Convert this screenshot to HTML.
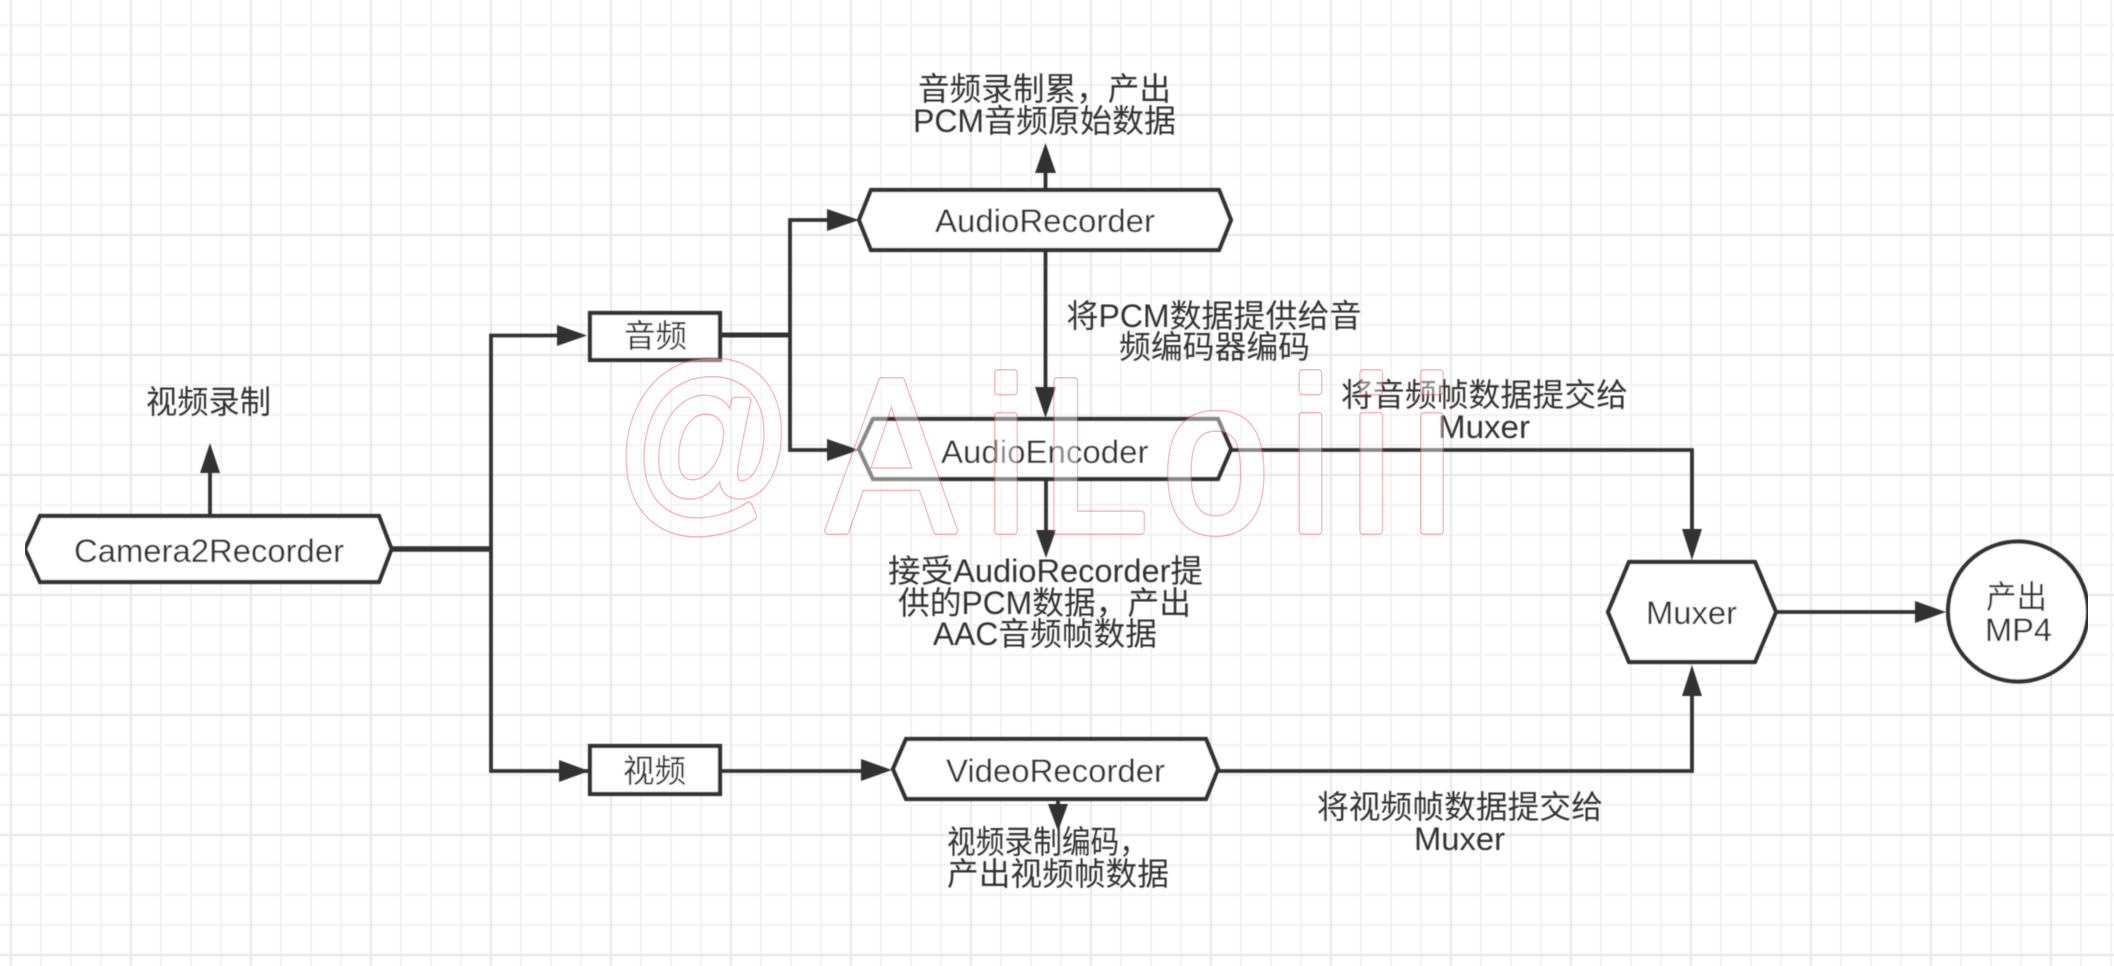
<!DOCTYPE html>
<html lang="zh">
<head>
<meta charset="utf-8">
<title>Diagram</title>
<style>
html,body{margin:0;padding:0;background:#fff;width:2114px;height:966px;overflow:hidden}
svg{display:block;position:absolute;left:0;top:0}
text{font-family:"Liberation Sans","Noto Sans CJK SC",sans-serif;font-size:32px;fill:#333}
.s{fill:none;stroke:#333;stroke-width:3.8}
.n{fill:#fff;stroke:#333;stroke-width:4.2;stroke-linejoin:miter}
.a{fill:#333;stroke:none}
.wm text{font-size:218px}
.wm text.at{font-size:200px}
</style>
</head>
<body>
<svg width="2114" height="966" viewBox="0 0 2114 966" xmlns="http://www.w3.org/2000/svg">
<defs>
<pattern id="gm" x="-4" y="10" width="30" height="30" patternUnits="userSpaceOnUse">
<path d="M15 0V30M0 15H30" fill="none" stroke="#f4f4f4" stroke-width="2.4"/>
</pattern>
<pattern id="gM" x="-49" y="55" width="120" height="120" patternUnits="userSpaceOnUse">
<path d="M60 0V120M0 60H120" fill="none" stroke="#ebebeb" stroke-width="2.4"/>
</pattern>
<filter id="b" x="0" y="0" width="100%" height="100%"><feGaussianBlur stdDeviation="0.45"/></filter>
</defs>
<rect width="2114" height="966" fill="#fff"/>
<rect width="2114" height="966" fill="url(#gm)"/>
<rect width="2114" height="966" fill="url(#gM)"/>

<g filter="url(#b)">
<!-- connectors -->
<path class="s" d="M391 549H491" style="stroke-width:5.5"/>
<path class="s" d="M557 335.500H491V771H589"/>
<path class="s" d="M720 335H790" style="stroke-width:5"/>
<path class="s" d="M828 220H790V450H828"/>
<path class="s" d="M210 516V470"/>
<path class="s" d="M1045.500 190V170"/>
<path class="s" d="M1045.500 250V390"/>
<path class="s" d="M1046 479V535"/>
<path class="s" d="M720 771H865"/>
<path class="s" d="M1058 799V810"/>
<path class="s" d="M1231 450H1692V532"/>
<path class="s" d="M1218 771H1692V694"/>
<path class="s" d="M1776 612H1918"/>

<!-- arrowheads -->
<polygon class="a" points="210,443 200,473 220,473"/>
<polygon class="a" points="587,335.500 557,325 557,346"/>
<polygon class="a" points="589,771 559,760 559,782"/>
<polygon class="a" points="859,220 827,209 827,231"/>
<polygon class="a" points="859,450 827,439 827,461"/>
<polygon class="a" points="1045.500,143 1035,173 1056,173"/>
<polygon class="a" points="1045.500,418 1035,387 1056,387"/>
<polygon class="a" points="1046,558 1036,530 1056,530"/>
<polygon class="a" points="892,770 861,759 861,781"/>
<polygon class="a" points="1058,831 1048,804 1068,804"/>
<polygon class="a" points="1692,560 1682,529 1702,529"/>
<polygon class="a" points="1692,665 1682,696 1702,696"/>
<polygon class="a" points="1946,612 1915,601 1915,623"/>

<!-- nodes -->
<polygon class="n" points="25,549 40,516 379,516 391.500,549 379,582 40,582"/>
<rect class="n" x="590" y="313" width="130" height="47"/>
<rect class="n" x="590" y="746" width="130" height="48"/>
<polygon class="n" points="859,220 871,190 1219,190 1231,220 1219,250 871,250"/>
<polygon class="n" points="859,449 873,419 1218,419 1231,449 1218,479 873,479"/>
<polygon class="n" points="893,769 906,739 1206,739 1218,769 1206,799 906,799"/>
<polygon class="n" points="1608,612 1629,562 1755,562 1776,612 1755,662 1629,662"/>
<ellipse class="n" cx="2018" cy="611.500" rx="70" ry="70"/>

<!-- labels -->
<text x="146" y="413" textLength="125" lengthAdjust="spacingAndGlyphs">视频录制</text>
<text x="74" y="562" textLength="270" lengthAdjust="spacingAndGlyphs">Camera2Recorder</text>
<text x="624" y="347" textLength="63" lengthAdjust="spacingAndGlyphs">音频</text>
<text x="623" y="782" textLength="63" lengthAdjust="spacingAndGlyphs">视频</text>
<text x="918" y="100" textLength="253" lengthAdjust="spacingAndGlyphs">音频录制累，产出</text>
<text x="913" y="132" textLength="263" lengthAdjust="spacingAndGlyphs">PCM音频原始数据</text>
<text x="935" y="232" textLength="220" lengthAdjust="spacingAndGlyphs">AudioRecorder</text>
<text x="1066.500" y="327" textLength="295" lengthAdjust="spacingAndGlyphs">将PCM数据提供给音</text>
<text x="1119" y="358" textLength="191" lengthAdjust="spacingAndGlyphs">频编码器编码</text>
<text x="1341" y="406" textLength="287" lengthAdjust="spacingAndGlyphs">将音频帧数据提交给</text>
<text x="1438" y="438" textLength="92" lengthAdjust="spacingAndGlyphs">Muxer</text>
<text x="941" y="463" textLength="207.500" lengthAdjust="spacingAndGlyphs">AudioEncoder</text>
<text x="888" y="582" textLength="315" lengthAdjust="spacingAndGlyphs">接受AudioRecorder提</text>
<text x="898" y="614" textLength="293" lengthAdjust="spacingAndGlyphs">供的PCM数据，产出</text>
<text x="933" y="645" textLength="224" lengthAdjust="spacingAndGlyphs">AAC音频帧数据</text>
<text x="946" y="782" textLength="219" lengthAdjust="spacingAndGlyphs">VideoRecorder</text>
<text x="947" y="853" textLength="201" lengthAdjust="spacingAndGlyphs">视频录制编码，</text>
<text x="947" y="885" textLength="222" lengthAdjust="spacingAndGlyphs">产出视频帧数据</text>
<text x="1317" y="818" textLength="286" lengthAdjust="spacingAndGlyphs">将视频帧数据提交给</text>
<text x="1414" y="850" textLength="91" lengthAdjust="spacingAndGlyphs">Muxer</text>
<text x="1646" y="624" textLength="91" lengthAdjust="spacingAndGlyphs">Muxer</text>
<text x="1986" y="608" textLength="61" lengthAdjust="spacingAndGlyphs">产出</text>
<text x="1985" y="641" textLength="67" lengthAdjust="spacingAndGlyphs">MP4</text>
</g>

<!-- watermark -->
<g class="wm" opacity="0.42" stroke-linejoin="round" stroke-linecap="round">
<g transform="scale(.88,1)">
<text class="at" x="699" y="506" style="fill:none;stroke:#f55;stroke-width:8">@</text>
<text x="940 1119 1183 1321 1465 1534 1603" y="531" style="fill:none;stroke:#f55;stroke-width:8">AiLoiii</text>
<text class="at" x="699" y="506" style="fill:#fff;stroke:#fff;stroke-width:5">@</text>
<text x="940 1119 1183 1321 1465 1534 1603" y="531" style="fill:#fff;stroke:#fff;stroke-width:5">AiLoiii</text>
</g>
</g>
</svg>
</body>
</html>
